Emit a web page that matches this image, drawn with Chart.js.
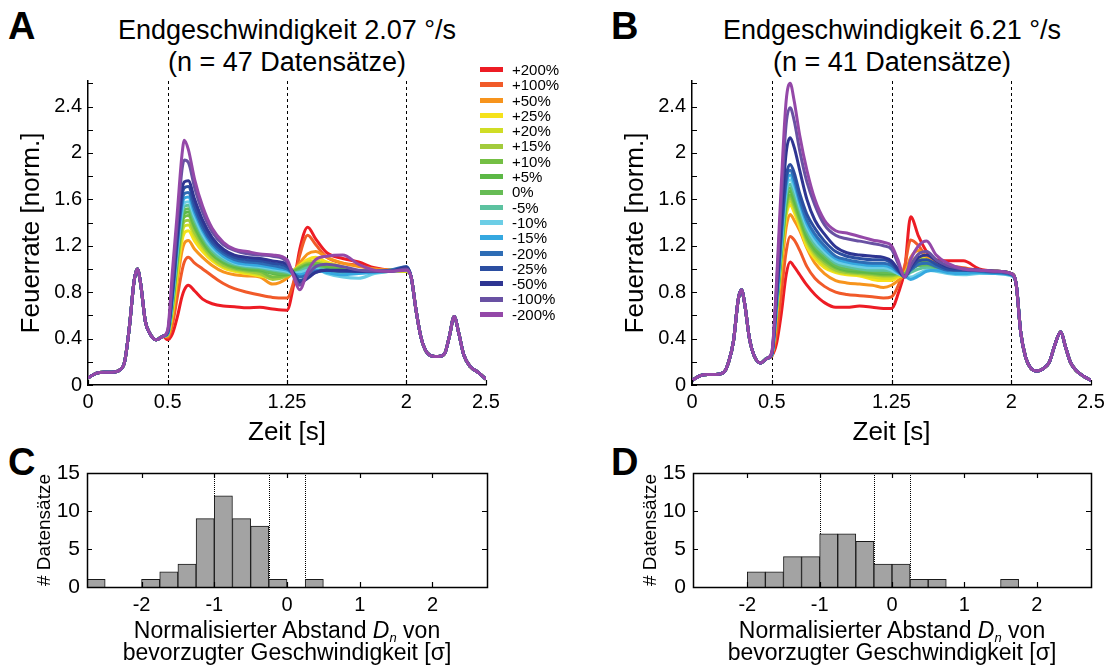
<!DOCTYPE html>
<html>
<head>
<meta charset="utf-8">
<script src="https://cdn.jsdelivr.net/npm/chart.js@4.4.1/dist/chart.umd.min.js"></script>
<style>
  body { margin:0; background:#fff; width:1110px; height:668px; position:relative; overflow:hidden;
         font-family:"Liberation Sans", Arial, sans-serif; color:#000; }
  canvas { position:absolute; }
  .buchstabe { position:absolute; font-weight:bold; font-size:38px; line-height:38px; }
  .titel { position:absolute; width:400px; text-align:center; font-size:27px; line-height:32px; white-space:nowrap; }
  .xtitel { position:absolute; width:400px; text-align:center; font-size:23px; line-height:22px; white-space:nowrap; }
  .xtitel sub { font-size:13px; font-style:italic; vertical-align:-4px; line-height:0; }
  #legende { position:absolute; left:480px; top:62px; font-size:15px; }
  #legende div { height:15.3px; line-height:15.3px; display:flex; align-items:center; white-space:nowrap; }
  #legende span { display:inline-block; width:23px; height:5px; margin-right:9px; }
</style>
</head>
<body>
<div class="buchstabe" style="left:8px;top:7px">A</div>
<div class="buchstabe" style="left:611px;top:7px">B</div>
<div class="buchstabe" style="left:8px;top:443px">C</div>
<div class="buchstabe" style="left:611px;top:443px">D</div>

<div class="titel" style="left:87px;top:14px">Endgeschwindigkeit 2.07 °/s<br>(n = 47 Datensätze)</div>
<div class="titel" style="left:692px;top:14px">Endgeschwindigkeit 6.21 °/s<br>(n = 41 Datensätze)</div>

<canvas id="kurvenA" width="560" height="455" style="left:0;top:0"></canvas>
<canvas id="kurvenB" width="506" height="455" style="left:604px;top:0"></canvas>
<canvas id="histC" width="560" height="228" style="left:0;top:440px"></canvas>
<canvas id="histD" width="504" height="228" style="left:606px;top:440px"></canvas>

<div id="legende"></div>

<div class="xtitel" style="left:87px;top:619px">Normalisierter Abstand <i>D</i><sub>n</sub> von<br>bevorzugter Geschwindigkeit [σ]</div>
<div class="xtitel" style="left:692px;top:619px">Normalisierter Abstand <i>D</i><sub>n</sub> von<br>bevorzugter Geschwindigkeit [σ]</div>

<script>
// Stimulusbedingungen (relative Geschwindigkeitsänderung) und ihre Farben
const geschwindigkeiten = ['+200%','+100%','+50%','+25%','+20%','+15%','+10%','+5%','0%',
                           '-5%','-10%','-15%','-20%','-25%','-50%','-100%','-200%'];
const farben = ['#ed1c24','#f15a29','#f7941d','#f5e21b','#d0dd25','#a2cb3c','#74bf44','#5cb846','#66bc55',
                '#5cc2a0','#6ccee6','#35a8e0','#2e6db5','#2b4ea1','#2e3592','#6951a3','#9448a8'];

// Zeitachsen [s]
const zeitA = [0,0.05,0.1,0.15,0.2,0.23,0.26,0.29,0.31,0.33,0.36,0.39,0.43,0.47,
  0.5,0.53,0.56,0.59,0.605,0.63,0.67,0.72,0.78,0.85,0.92,1.0,1.08,1.16,1.25,1.29,1.33,1.38,1.43,1.5,1.6,1.7,1.8,1.9,2.0,
  2.03,2.06,2.09,2.12,2.16,2.2,2.24,2.27,2.3,2.33,2.36,2.4,2.45,2.5];
const zeitB = [0,0.05,0.1,0.15,0.2,0.23,0.26,0.29,0.31,0.33,0.36,0.39,0.43,0.47,
  0.5,0.53,0.56,0.59,0.615,0.64,0.675,0.72,0.77,0.83,0.9,0.97,1.05,1.13,1.2,1.25,1.29,1.333,1.37,1.42,1.47,1.53,1.6,1.7,1.8,1.9,2.0,
  2.03,2.06,2.09,2.12,2.16,2.2,2.24,2.27,2.31,2.34,2.37,2.41,2.46,2.5];

// Gemeinsamer Verlauf vor 0.5 s und nach 2 s (alle Bedingungen deckungsgleich)
const kopfA     = [0.06,0.10,0.11,0.11,0.13,0.2,0.5,0.9,1.0,0.88,0.55,0.44,0.39,0.42];
const schwanzA  = [0.93,0.65,0.42,0.3,0.25,0.245,0.27,0.42,0.59,0.44,0.26,0.16,0.11,0.05];
const kopfB     = [0.04,0.08,0.09,0.09,0.11,0.2,0.38,0.74,0.82,0.7,0.4,0.25,0.19,0.23];
const schwanzB  = [0.88,0.45,0.24,0.15,0.12,0.14,0.2,0.33,0.46,0.33,0.2,0.12,0.07,0.04];

// Feuerrate 0.5 s – 2 s, Endgeschwindigkeit 2.07 °/s
const A_p200 = [0.39,0.44,0.58,0.76,0.82,0.86,0.81,0.74,0.70,0.68,0.675,0.665,0.67,0.655,0.645,0.85,1.17,1.36,1.26,1.14,1.09,1.06,1.01,0.99,0.98];
const A_p100 = [0.41,0.52,0.75,0.98,1.06,1.10,1.05,1.0,0.94,0.875,0.83,0.80,0.775,0.755,0.75,0.88,1.12,1.29,1.21,1.1,1.05,1.03,1.0,0.99,0.98];
const A_p50  = [0.42,0.58,0.88,1.15,1.22,1.245,1.17,1.1,1.03,0.975,0.95,0.94,0.93,0.87,0.92,0.98,1.05,1.13,1.15,1.1,1.05,1.02,1.0,0.99,0.98];
const A_p25  = [0.43,0.62,0.95,1.24,1.31,1.33,1.24,1.15,1.07,1.01,0.98,0.96,0.94,0.92,0.95,0.98,1.03,1.08,1.1,1.06,1.02,0.98,0.97,0.98,0.98];
const A_p20  = [0.43,0.64,1.0,1.3,1.37,1.38,1.28,1.18,1.09,1.02,0.99,0.97,0.95,0.93,0.96,0.99,1.02,1.06,1.07,1.04,1.0,0.97,0.97,0.98,0.98];
const A_p15  = [0.43,0.66,1.03,1.34,1.41,1.42,1.31,1.2,1.1,1.03,1.0,0.98,0.96,0.91,0.94,0.98,1.02,1.05,1.05,1.03,1.0,0.98,0.98,0.98,0.99];
const A_p10  = [0.44,0.68,1.06,1.38,1.45,1.46,1.35,1.22,1.12,1.05,1.01,0.99,0.98,0.93,0.95,0.98,1.01,1.04,1.05,1.02,1.0,0.98,0.98,0.99,0.99];
const A_p5   = [0.44,0.7,1.08,1.41,1.48,1.49,1.37,1.24,1.13,1.06,1.02,1.0,0.99,0.96,0.95,0.97,1.0,1.03,1.03,1.01,0.99,0.98,0.98,0.99,0.99];
const A_0    = [0.44,0.72,1.1,1.44,1.51,1.52,1.39,1.26,1.14,1.07,1.03,1.01,1.0,0.97,0.96,0.97,0.99,1.02,1.02,1.0,0.99,0.98,0.98,0.99,0.99];
const A_m5   = [0.44,0.73,1.13,1.47,1.54,1.55,1.42,1.28,1.16,1.08,1.04,1.02,1.01,0.99,0.97,0.96,0.98,1.01,1.01,0.99,0.97,0.97,0.98,0.99,0.99];
const A_m10  = [0.44,0.74,1.15,1.5,1.57,1.58,1.45,1.3,1.18,1.1,1.05,1.03,1.02,1.0,0.98,0.96,0.97,0.99,1.0,0.96,0.93,0.92,0.96,0.98,0.99];
const A_m15  = [0.44,0.75,1.18,1.54,1.61,1.62,1.48,1.33,1.2,1.11,1.06,1.04,1.03,1.01,0.99,0.96,0.95,0.97,0.99,0.97,0.95,0.96,0.97,0.98,1.0];
const A_m20  = [0.45,0.77,1.21,1.58,1.65,1.66,1.51,1.35,1.22,1.13,1.08,1.06,1.05,1.03,1.0,0.96,0.93,0.95,0.98,0.99,0.98,0.98,0.98,0.99,1.02];
const A_m25  = [0.45,0.79,1.25,1.63,1.7,1.71,1.55,1.38,1.24,1.15,1.1,1.08,1.07,1.05,1.02,0.96,0.9,0.93,0.97,0.99,0.98,0.98,0.98,0.98,1.02];
const A_m50  = [0.46,0.81,1.29,1.68,1.75,1.76,1.6,1.42,1.27,1.17,1.12,1.1,1.09,1.07,1.04,0.97,0.88,0.92,0.97,0.99,0.99,0.98,0.98,0.98,1.01];
const A_m100 = [0.46,0.88,1.38,1.85,1.94,1.92,1.7,1.49,1.32,1.21,1.16,1.13,1.12,1.11,1.06,0.95,0.86,0.95,1.02,1.04,1.02,0.99,0.98,0.98,1.0];
const A_m200 = [0.47,0.98,1.47,1.98,2.11,2.03,1.77,1.54,1.35,1.23,1.17,1.15,1.13,1.12,1.08,0.94,0.82,0.98,1.08,1.11,1.12,1.04,0.99,0.98,0.99];

// Feuerrate 0.5 s – 2 s, Endgeschwindigkeit 6.21 °/s
const B_p200 = [0.25,0.36,0.62,0.95,1.06,1.02,0.95,0.86,0.78,0.71,0.67,0.67,0.68,0.67,0.66,0.66,0.78,1.0,1.45,1.28,1.15,1.08,1.07,1.07,1.0,0.98,0.96];
const B_p100 = [0.25,0.45,0.8,1.15,1.28,1.25,1.16,1.02,0.92,0.85,0.8,0.78,0.77,0.76,0.75,0.76,0.85,1.03,1.25,1.2,1.1,1.05,1.03,1.01,0.99,0.98,0.96];
const B_p50  = [0.25,0.58,0.98,1.36,1.47,1.42,1.33,1.18,1.05,0.96,0.9,0.88,0.87,0.86,0.84,0.86,0.9,0.96,1.1,1.16,1.1,1.04,1.02,1.0,0.99,0.98,0.96];
const B_p25  = [0.26,0.63,1.08,1.46,1.55,1.49,1.36,1.19,1.09,1.01,0.97,0.95,0.94,0.91,0.9,0.9,0.93,0.96,1.06,1.1,1.08,1.03,1.0,0.99,0.98,0.98,0.96];
const B_p20  = [0.26,0.64,1.1,1.49,1.58,1.52,1.39,1.22,1.11,1.03,0.98,0.96,0.95,0.93,0.92,0.92,0.94,0.96,1.05,1.09,1.08,1.03,1.0,0.99,0.98,0.98,0.96];
const B_p15  = [0.26,0.65,1.12,1.52,1.61,1.54,1.41,1.24,1.13,1.05,0.99,0.97,0.96,0.95,0.94,0.94,0.95,0.96,1.04,1.08,1.07,1.03,1.0,0.99,0.98,0.98,0.96];
const B_p10  = [0.26,0.66,1.14,1.55,1.64,1.57,1.43,1.26,1.15,1.07,1.01,0.98,0.97,0.96,0.95,0.95,0.96,0.96,1.03,1.07,1.06,1.02,1.0,0.98,0.98,0.97,0.96];
const B_p5   = [0.26,0.67,1.16,1.58,1.67,1.6,1.46,1.28,1.17,1.09,1.02,0.99,0.98,0.97,0.96,0.96,0.96,0.95,1.01,1.05,1.05,1.01,0.99,0.98,0.98,0.97,0.95];
const B_0    = [0.26,0.68,1.18,1.61,1.7,1.63,1.48,1.3,1.19,1.11,1.03,1.0,0.99,0.98,0.97,0.97,0.96,0.95,0.99,1.03,1.03,1.0,0.98,0.98,0.97,0.97,0.95];
const B_m5   = [0.26,0.69,1.21,1.64,1.73,1.66,1.51,1.33,1.21,1.13,1.05,1.02,1.0,0.99,0.99,0.98,0.96,0.94,0.97,1.0,1.01,0.99,0.98,0.97,0.97,0.97,0.95];
const B_m10  = [0.26,0.7,1.24,1.68,1.77,1.7,1.54,1.36,1.24,1.15,1.07,1.04,1.02,1.01,1.01,0.99,0.96,0.94,0.93,0.96,0.99,0.98,0.96,0.95,0.96,0.96,0.94];
const B_m15  = [0.26,0.72,1.27,1.72,1.81,1.74,1.57,1.39,1.27,1.17,1.09,1.06,1.04,1.03,1.03,1.01,0.97,0.94,0.91,0.94,0.98,0.99,0.97,0.96,0.97,0.96,0.95];
const B_m20  = [0.27,0.73,1.3,1.76,1.85,1.78,1.6,1.42,1.3,1.2,1.11,1.08,1.06,1.05,1.05,1.03,0.98,0.94,0.99,1.04,1.05,1.02,0.99,0.99,0.98,0.97,0.95];
const B_m25  = [0.27,0.75,1.35,1.8,1.9,1.83,1.65,1.47,1.35,1.24,1.15,1.11,1.09,1.08,1.08,1.05,0.99,0.94,1.0,1.07,1.08,1.04,1.0,0.99,0.99,0.98,0.96];
const B_m50  = [0.27,0.8,1.45,2.0,2.13,2.05,1.85,1.6,1.42,1.3,1.19,1.14,1.12,1.11,1.1,1.07,1.0,0.93,1.02,1.1,1.12,1.07,1.02,1.0,0.99,0.98,0.96];
const B_m100 = [0.28,0.85,1.6,2.25,2.39,2.28,2.02,1.75,1.55,1.38,1.29,1.26,1.24,1.22,1.2,1.17,1.05,0.93,1.03,1.13,1.15,1.08,1.03,1.0,0.99,0.98,0.96];
const B_m200 = [0.28,0.9,1.75,2.45,2.6,2.45,2.15,1.85,1.6,1.42,1.33,1.31,1.28,1.25,1.23,1.2,1.08,0.93,1.08,1.2,1.24,1.12,1.05,1.0,0.99,0.98,0.96];

const mittenA = [A_p200,A_p100,A_p50,A_p25,A_p20,A_p15,A_p10,A_p5,A_0,A_m5,A_m10,A_m15,A_m20,A_m25,A_m50,A_m100,A_m200];
const mittenB = [B_p200,B_p100,B_p50,B_p25,B_p20,B_p15,B_p10,B_p5,B_0,B_m5,B_m10,B_m15,B_m20,B_m25,B_m50,B_m100,B_m200];

// Achsenbeschriftung der Feuerraten-Diagramme
const zeitTicks = [0, 0.5, 1.25, 2, 2.5];
const zeitTickTexte = ['0', '0.5', '1.25', '2', '2.5'];
const rateTicks = [0,0.2,0.4,0.6,0.8,1.0,1.2,1.4,1.6,1.8,2.0,2.2,2.4,2.6];
const rateTickTexte = ['0','','0.4','','0.8','','1.2','','1.6','','2','','2.4',''];
const phasenGrenzen = [0.5, 1.25, 2];

// Histogramme: Klassenmitten (Breite 0.25 σ) und Anzahl Datensätze
const klassen = [-2.625,-2.375,-2.125,-1.875,-1.625,-1.375,-1.125,-0.875,-0.625,-0.375,-0.125,
                 0.125,0.375,0.625,0.875,1.125,1.375,1.625,1.875,2.125,2.375,2.625];
const anzahlC = [1,0,0,1,2,3,9,12,9,8,1, 0,1,0,0,0,0,0,0,0,0,0];
const anzahlD = [0,0,0,2,2,4,4,7,7,6,3, 3,1,1,0,0,0,1,0,0,0,0];
const abstandTicks = [-2,-1,0,1,2];
const abstandTickTexte = ['-2','-1','0','1','2'];
const anzahlTicks = [0,5,10,15];
const grenzenDn = [-1, -0.25, 0.25];

Chart.defaults.font.family = '"Liberation Sans", Arial, sans-serif';
Chart.defaults.color = '#000';

// Gestrichelte Markierungen, nach innen zeigende Ticks, optional geschlossener Rahmen
const achsenPlugin = {
  id: 'achsen',
  beforeDatasetsDraw(chart, args, opts) {
    const {ctx, chartArea: a, scales: {x}} = chart;
    if (!opts.marken) return;
    ctx.save();
    ctx.strokeStyle = '#000';
    ctx.lineWidth = 1;
    ctx.setLineDash(opts.strich);
    opts.marken.forEach(m => {
      const px = Math.round(x.getPixelForValue(m)) + 0.5;
      ctx.beginPath(); ctx.moveTo(px, a.top); ctx.lineTo(px, a.bottom); ctx.stroke();
    });
    ctx.restore();
  },
  afterDraw(chart, args, opts) {
    const {ctx, chartArea: a, scales: {x, y}} = chart;
    const L = 5;
    ctx.save();
    ctx.strokeStyle = '#000';
    ctx.lineWidth = 1.2;
    ctx.beginPath();
    x.ticks.forEach(t => {
      const px = Math.round(x.getPixelForValue(t.value)) + 0.5;
      ctx.moveTo(px, a.bottom); ctx.lineTo(px, a.bottom - L);
      if (opts.rahmen) { ctx.moveTo(px, a.top); ctx.lineTo(px, a.top + L); }
    });
    y.ticks.forEach(t => {
      const py = Math.round(y.getPixelForValue(t.value)) + 0.5;
      ctx.moveTo(a.left, py); ctx.lineTo(a.left + L, py);
      if (opts.rahmen) { ctx.moveTo(a.right, py); ctx.lineTo(a.right - L, py); }
    });
    ctx.stroke();
    if (opts.rahmen) {
      ctx.lineWidth = 1.5;
      ctx.strokeRect(Math.round(a.left) + 0.5, Math.round(a.top) + 0.5,
                     Math.round(a.right - a.left), Math.round(a.bottom - a.top));
    }
    ctx.restore();
  }
};

function kurven(zeit, kopf, mitten, schwanz) {
  return mitten.map((mitte, i) => {
    const werte = kopf.concat(mitte, schwanz);
    return {
      label: geschwindigkeiten[i],
      data: zeit.map((t, j) => ({x: t, y: werte[j]})),
      borderColor: farben[i],
      backgroundColor: farben[i],
      borderWidth: 3,
      pointRadius: 0,
      cubicInterpolationMode: 'monotone',
      fill: false,
      order: mitten.length - 1 - i
    };
  });
}

function kurvenDiagramm(id, datasets, rechts) {
  return new Chart(document.getElementById(id), {
    type: 'line',
    data: {datasets},
    options: {
      responsive: false, animation: false, devicePixelRatio: 1,
      layout: {padding: {top: 81, right: rechts, bottom: 0, left: 0}},
      plugins: {legend: {display: false}, tooltip: {enabled: false},
                achsen: {marken: phasenGrenzen, strich: [3, 3]}},
      scales: {
        x: {
          type: 'linear', min: 0, max: 2.5,
          afterBuildTicks: s => { s.ticks = zeitTicks.map(v => ({value: v})); },
          afterFit: s => { s.height = 70; },
          ticks: {autoSkip: false, maxRotation: 0, padding: 5, font: {size: 20},
                  callback: (v, i) => zeitTickTexte[i]},
          grid: {display: false, drawTicks: false},
          border: {display: true, color: '#000', width: 1.5},
          title: {display: true, text: 'Zeit [s]', font: {size: 26}, padding: {top: 0, bottom: 7}}
        },
        y: {
          type: 'linear', min: 0, max: 2.62,
          afterBuildTicks: s => { s.ticks = rateTicks.map(v => ({value: v})); },
          afterFit: s => { s.width = 88; },
          ticks: {autoSkip: false, padding: 6, font: {size: 20},
                  callback: (v, i) => rateTickTexte[i]},
          grid: {display: false, drawTicks: false},
          border: {display: true, color: '#000', width: 1.5},
          title: {display: true, text: 'Feuerrate [norm.]', font: {size: 26}, padding: {top: 16, bottom: 0}}
        }
      }
    },
    plugins: [achsenPlugin]
  });
}

function histogramm(id, anzahl, rechts) {
  return new Chart(document.getElementById(id), {
    type: 'bar',
    data: {datasets: [{
      data: klassen.map((k, i) => ({x: k, y: anzahl[i]})),
      backgroundColor: '#a3a3a3', borderColor: '#1a1a1a', borderWidth: 1,
      borderSkipped: 'start', barPercentage: 1, categoryPercentage: 1
    }]},
    options: {
      responsive: false, animation: false, devicePixelRatio: 1,
      layout: {padding: {top: 33, right: rechts, bottom: 0, left: 0}},
      plugins: {legend: {display: false}, tooltip: {enabled: false},
                achsen: {marken: grenzenDn, strich: [1, 1], rahmen: true}},
      scales: {
        x: {
          type: 'linear', min: -2.75, max: 2.75, offset: false,
          afterBuildTicks: s => { s.ticks = abstandTicks.map(v => ({value: v})); },
          afterFit: s => { s.height = 81; },
          ticks: {autoSkip: false, maxRotation: 0, padding: 6, font: {size: 20},
                  callback: (v, i) => abstandTickTexte[i]},
          grid: {display: false, drawTicks: false, offset: false},
          border: {display: false}
        },
        y: {
          type: 'linear', min: 0, max: 15,
          afterBuildTicks: s => { s.ticks = anzahlTicks.map(v => ({value: v})); },
          afterFit: s => { s.width = 87; },
          ticks: {autoSkip: false, padding: 7, font: {size: 21}},
          grid: {display: false, drawTicks: false},
          border: {display: false},
          title: {display: true, text: '# Datensätze', font: {size: 19}, padding: {top: 33, bottom: 0}}
        }
      }
    },
    plugins: [achsenPlugin]
  });
}

kurvenDiagramm('kurvenA', kurven(zeitA, kopfA, mittenA, schwanzA), 74);
kurvenDiagramm('kurvenB', kurven(zeitB, kopfB, mittenB, schwanzB), 19);
histogramm('histC', anzahlC, 73);
histogramm('histD', anzahlD, 19);

// Legende der Geschwindigkeitsbedingungen
const legende = document.getElementById('legende');
geschwindigkeiten.forEach((g, i) => {
  const zeile = document.createElement('div');
  const feld = document.createElement('span');
  feld.style.background = farben[i];
  zeile.appendChild(feld);
  zeile.appendChild(document.createTextNode(g));
  legende.appendChild(zeile);
});
</script>
</body>
</html>
